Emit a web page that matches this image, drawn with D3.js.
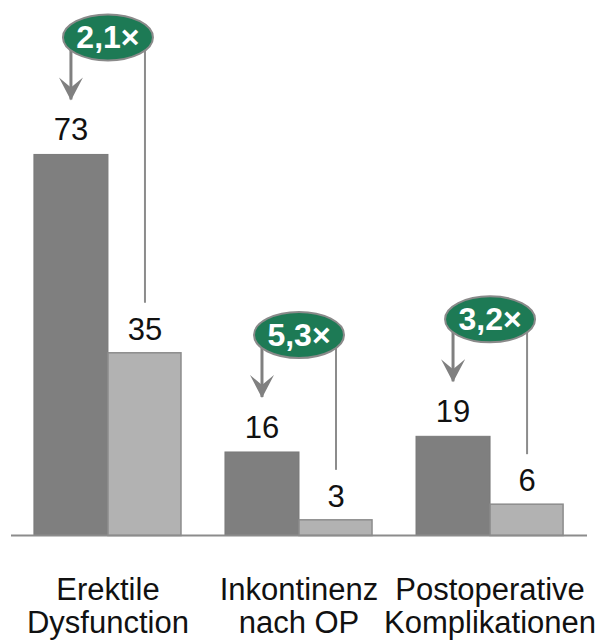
<!DOCTYPE html>
<html>
<head>
<meta charset="utf-8">
<script src="https://cdn.jsdelivr.net/npm/d3@7"></script>
<style>
  body { margin: 0; background: #fff; }
  svg { display: block; font-family: Arial, "Liberation Sans", sans-serif; }
</style>
</head>
<body>
<svg width="602" height="642"></svg>
<script>
// chart data
var categories = [["Erektile", "Dysfunction"], ["Inkontinenz", "nach OP"], ["Postoperative", "Komplikationen"]];
var before = [73, 16, 19];
var after = [35, 3, 6];
var factors = ["2,1×", "5,3×", "3,2×"];

var svg = d3.select("svg"),
    width = +svg.attr("width"),
    height = +svg.attr("height");

var baseY = 535.5;

var x = d3.scaleBand()
    .domain(d3.range(categories.length))
    .range([11, 587])
    .paddingInner(0.225)
    .paddingOuter(0.12);

var xSub = d3.scaleBand()
    .domain([0, 1])
    .range([0, x.bandwidth()]);

var y = d3.scaleLinear()
    .domain([0, 100])
    .range([baseY, baseY - 522]);

var rows = categories.map(function(c, i) {
    return { i: i, label: c, a: before[i], b: after[i], f: factors[i] };
});

// arrow marker
svg.append("defs").append("marker")
    .attr("id", "head")
    .attr("viewBox", "0 0 24 24")
    .attr("refX", 12).attr("refY", 22)
    .attr("markerWidth", 24).attr("markerHeight", 24)
    .attr("markerUnits", "userSpaceOnUse")
    .attr("orient", "0")
    .append("path")
    .attr("d", "M0,0 L12,10 L24,0 L12,23 Z")
    .attr("fill", "#808080");

var g = svg.selectAll("g.grp")
    .data(rows)
    .enter().append("g")
    .attr("class", "grp")
    .attr("transform", function(d) { return "translate(" + x(d.i) + ",0)"; });

// bars
g.append("rect")
    .attr("x", xSub(0))
    .attr("y", function(d) { return y(d.a); })
    .attr("width", xSub.bandwidth())
    .attr("height", function(d) { return baseY - y(d.a); })
    .attr("fill", "#7f7f7f")
    .attr("stroke", "#7a7a7a")
    .attr("stroke-width", 1);

g.append("rect")
    .attr("x", xSub(1))
    .attr("y", function(d) { return y(d.b); })
    .attr("width", xSub.bandwidth() - 1)
    .attr("height", function(d) { return baseY - y(d.b); })
    .attr("fill", "#b2b2b2")
    .attr("stroke", "#8c8c8c")
    .attr("stroke-width", 1.5);

// value labels
g.append("text")
    .attr("x", xSub(0) + xSub.bandwidth() / 2)
    .attr("y", function(d) { return y(d.a) - 14; })
    .attr("text-anchor", "middle")
    .style("font-size", "31px")
    .attr("fill", "#111")
    .text(function(d) { return d.a; });

g.append("text")
    .attr("x", xSub(1) + xSub.bandwidth() / 2)
    .attr("y", function(d) { return y(d.b) - 13; })
    .attr("text-anchor", "middle")
    .style("font-size", "31px")
    .attr("fill", "#111")
    .text(function(d) { return d.b; });

// connector to light bar
g.append("line")
    .attr("x1", xSub(1) + xSub.bandwidth() / 2)
    .attr("x2", xSub(1) + xSub.bandwidth() / 2)
    .attr("y1", function(d) { return y(d.a) - 120; })
    .attr("y2", function(d) { return y(d.b) - 50; })
    .attr("stroke", "#8c8c8c")
    .attr("stroke-width", 2);

// arrow to dark bar
g.append("line")
    .attr("x1", xSub(0) + xSub.bandwidth() / 2)
    .attr("x2", xSub(0) + xSub.bandwidth() / 2)
    .attr("y1", function(d) { return y(d.a) - 120; })
    .attr("y2", function(d) { return y(d.a) - 55; })
    .attr("stroke", "#808080")
    .attr("stroke-width", 3)
    .attr("marker-end", "url(#head)");

// factor badges
g.append("ellipse")
    .attr("cx", x.bandwidth() / 2)
    .attr("cy", function(d) { return y(d.a) - 117; })
    .attr("rx", 45)
    .attr("ry", 23)
    .attr("fill", "#1d7a55")
    .attr("stroke", "#8a8a8a")
    .attr("stroke-width", 2);

g.append("text")
    .attr("x", x.bandwidth() / 2)
    .attr("y", function(d) { return y(d.a) - 117 + 11; })
    .attr("text-anchor", "middle")
    .style("font-size", "32px")
    .style("font-weight", "bold")
    .attr("fill", "#fff")
    .text(function(d) { return d.f; });

// category labels
var lab = g.append("text")
    .attr("text-anchor", "middle")
    .style("font-size", "31px")
    .attr("fill", "#111");

lab.selectAll("tspan")
    .data(function(d) { return d.label; })
    .enter().append("tspan")
    .attr("x", x.bandwidth() / 2)
    .attr("y", function(d, k) { return 600 + k * 33; })
    .text(function(d) { return d; });

// baseline
svg.append("line")
    .attr("x1", x.range()[0])
    .attr("x2", x.range()[1])
    .attr("y1", baseY)
    .attr("y2", baseY)
    .attr("stroke", "#8c8c8c")
    .attr("stroke-width", 2);
</script>
</body>
</html>
